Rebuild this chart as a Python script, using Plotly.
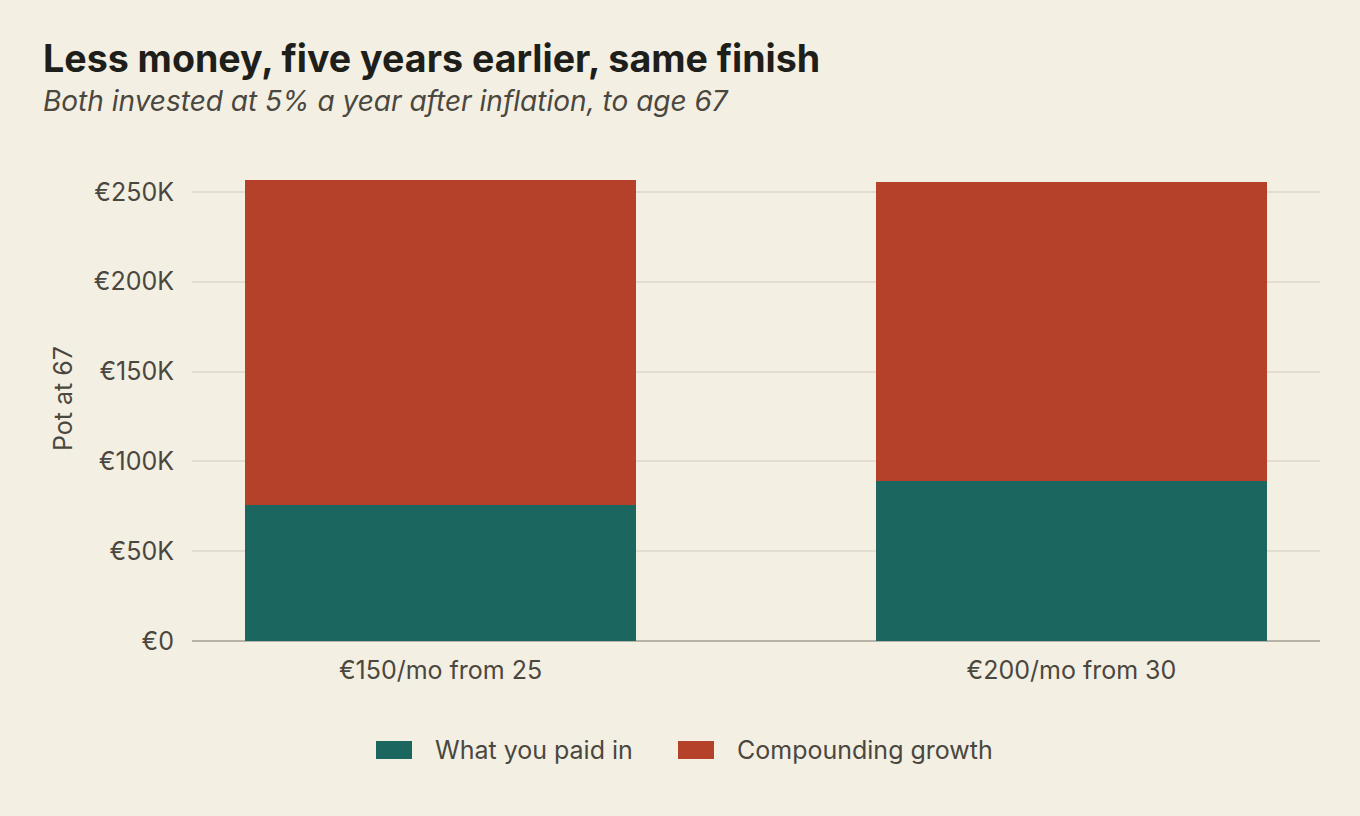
import plotly.graph_objects as go

categories = ["€150/mo from 25", "€200/mo from 30"]
paid_in = [75600, 88800]
growth = [181100, 166800]
series_names = ["What you paid in", "Compounding growth"]
tick_vals = [0, 50000, 100000, 150000, 200000, 250000]
tick_text = ["€0", "€50K", "€100K", "€150K", "€200K", "€250K"]

BG = "#F4EFE3"
TEAL = "#1B665F"
RUST = "#B5412A"
TXT = "#4A473F"
FONT = "Inter"
colors = [TEAL, RUST]

fig = go.Figure()
for vals, name, col in zip([paid_in, growth], series_names, colors):
    fig.add_trace(go.Bar(x=[0, 1], y=vals, name=name, marker_color=col,
                         marker_line_width=0, width=0.62, showlegend=False))

L, R, T, B = 192, 40, 156, 175
W, H = 1360, 816
ph = H - T - B
pw = W - L - R


def px_x(p):
    return (p - L) / pw


def px_y(p):
    return (H - B - p) / ph


# custom legend (wide swatches like the reference)
legend_x = [376, 678]
shapes = []
legend_ann = []
for lx, name, col in zip(legend_x, series_names, colors):
    shapes.append(dict(type="rect", xref="paper", yref="paper",
                       x0=px_x(lx), x1=px_x(lx + 36), y0=px_y(759), y1=px_y(741),
                       fillcolor=col, line=dict(width=0)))
    legend_ann.append(dict(text=name, xref="paper", yref="paper", x=px_x(lx + 57), y=px_y(750),
                           xanchor="left", yanchor="middle", showarrow=False,
                           font=dict(size=25, color=TXT, family=FONT)))

fig.update_layout(
    width=W, height=H,
    barmode="stack",
    paper_bgcolor=BG, plot_bgcolor=BG,
    margin=dict(l=L, r=R, t=T, b=B),
    font=dict(family=FONT, color=TXT, size=25),
    showlegend=False,
    xaxis=dict(range=[-0.394, 1.394], tickmode="array", tickvals=[0, 1], ticktext=categories,
               showgrid=False, zeroline=False, showline=False, ticks="",
               ticklabelstandoff=12,
               tickfont=dict(size=25, color=TXT), fixedrange=True),
    yaxis=dict(range=[0, 270000], tickmode="array", tickvals=tick_vals, ticktext=tick_text,
               showgrid=True, gridcolor="#E3DDD0", gridwidth=2, zeroline=True,
               zerolinecolor="#B8B3A8", zerolinewidth=1.5, showline=False, ticks="",
               ticklabelstandoff=17,
               tickfont=dict(size=25, color=TXT),
               title=dict(text="Pot at 67", font=dict(size=25, color=TXT), standoff=14)),
    shapes=shapes,
    annotations=[
        dict(text="<b>Less money, five years earlier, same finish</b>", xref="paper", yref="paper",
             x=px_x(41), y=px_y(58), xanchor="left", yanchor="middle",
             showarrow=False, font=dict(size=37.6, color="#1E1E1A", family=FONT)),
        dict(text="<i>Both invested at 5% a year after inflation, to age 67</i>", xref="paper", yref="paper",
             x=px_x(41), y=px_y(101), xanchor="left", yanchor="middle",
             showarrow=False, font=dict(size=28, color=TXT, family=FONT)),
    ] + legend_ann,
)

fig.write_html("out.html")
